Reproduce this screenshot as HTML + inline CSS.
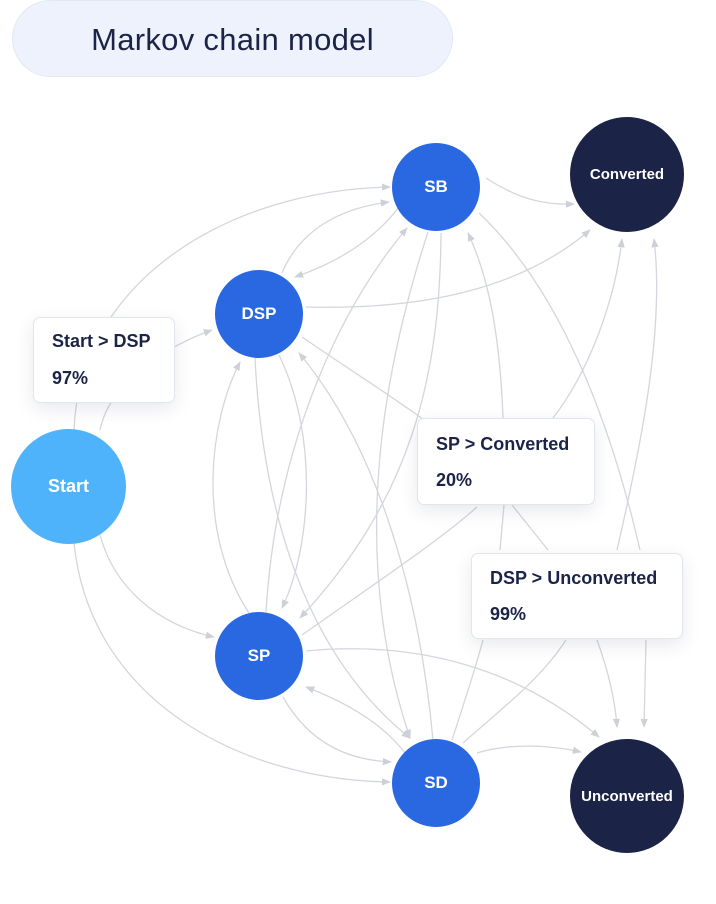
<!DOCTYPE html>
<html><head><meta charset="utf-8"><style>
body{margin:0;width:716px;height:904px;background:#fff;overflow:hidden;position:relative;font-family:"Liberation Sans",sans-serif}
.pill{position:absolute;left:12px;top:0;width:441px;height:77px;border-radius:39px;background:#edf2fc;border:1px solid #e2e8f3;box-sizing:border-box;text-align:center;line-height:78px;font-size:31px;color:#1b2447;letter-spacing:0.3px}
.lbl{position:absolute;background:#fff;border:1.5px solid #e0e5ee;border-radius:7px;box-sizing:border-box;box-shadow:0 6px 18px rgba(30,40,80,0.10);color:#1b2447;font-weight:bold;font-size:18px;padding-left:18px}
.lbl div{position:absolute;left:18px;white-space:nowrap}
.n{position:absolute;border-radius:50%;color:#fff;font-weight:bold;display:flex;align-items:center;justify-content:center}
</style></head><body>
<div class="pill">Markov chain model</div>
<svg width="716" height="904" style="position:absolute;left:0;top:0">
<defs><marker id="a" viewBox="0 0 10 10" refX="9" refY="5" markerWidth="7" markerHeight="7" orient="auto-start-reverse"><path d="M0,1 L10,5 L0,9 z" fill="#cdd0d7"/></marker></defs>
<g fill="none" stroke="#d3d6dc" stroke-width="1.3">
<path d="M74,430 C80,280 230,190 390,187" marker-end="url(#a)"/>
<path d="M100,430 C110,380 170,345 212,330" marker-end="url(#a)"/>
<path d="M100,535 C115,590 160,625 214,637" marker-end="url(#a)"/>
<path d="M74,543 C90,700 240,780 390,782" marker-end="url(#a)"/>
<path d="M282,273 C300,230 340,208 389,202" marker-end="url(#a)"/>
<path d="M399,207 C370,245 330,265 295,277" marker-end="url(#a)"/>
<path d="M266,612 C275,460 330,320 407,228" marker-end="url(#a)"/>
<path d="M428,232 C380,380 350,560 410,738" marker-end="url(#a)"/>
<path d="M441,233 C440,380 410,500 300,618" marker-end="url(#a)"/>
<path d="M503,418 C500,340 490,280 468,233" marker-end="url(#a)"/>
<path d="M479,213 C560,290 610,420 640,550"/>
<path d="M486,178 C520,200 545,205 574,204" marker-end="url(#a)"/>
<path d="M306,307 C420,310 520,290 590,230" marker-end="url(#a)"/>
<path d="M553,418 C590,370 615,300 622,239" marker-end="url(#a)"/>
<path d="M617,550 C640,450 665,330 654,239" marker-end="url(#a)"/>
<path d="M249,613 C195,530 210,420 240,362" marker-end="url(#a)"/>
<path d="M255,358 C262,500 300,650 410,738" marker-end="url(#a)"/>
<path d="M279,355 C320,440 310,550 282,608" marker-end="url(#a)"/>
<path d="M433,740 C420,600 380,450 299,353" marker-end="url(#a)"/>
<path d="M302,337 C350,370 390,395 424,420"/>
<path d="M302,635 C380,580 440,540 477,507"/>
<path d="M306,651 C420,640 520,670 599,737" marker-end="url(#a)"/>
<path d="M405,753 C380,720 340,700 306,687" marker-end="url(#a)"/>
<path d="M283,697 C310,745 350,760 391,762" marker-end="url(#a)"/>
<path d="M477,753 C510,743 550,745 581,752" marker-end="url(#a)"/>
<path d="M452,740 C465,700 475,670 483,640"/>
<path d="M463,743 C500,710 540,680 566,640"/>
<path d="M504,505 L500,550"/>
<path d="M512,505 L548,550"/>
<path d="M597,640 C608,670 615,700 617,727" marker-end="url(#a)"/>
<path d="M646,640 L644,727" marker-end="url(#a)"/>
</g></svg>
<div class="lbl" style="left:33px;top:317px;width:142px;height:86px"><div style="top:13px">Start &gt; DSP</div><div style="top:50px">97%</div></div>
<div class="lbl" style="left:417px;top:418px;width:178px;height:87px"><div style="top:15px">SP &gt; Converted</div><div style="top:51px">20%</div></div>
<div class="lbl" style="left:471px;top:553px;width:212px;height:86px"><div style="top:14px">DSP &gt; Unconverted</div><div style="top:50px">99%</div></div>
<div class="n" style="left:392px;top:143px;width:88px;height:88px;background:#2968e0;font-size:17px">SB</div>
<div class="n" style="left:570px;top:117px;width:114px;height:115px;background:#1b2447;font-size:15px">Converted</div>
<div class="n" style="left:215px;top:270px;width:88px;height:88px;background:#2968e0;font-size:17px">DSP</div>
<div class="n" style="left:11px;top:429px;width:115px;height:115px;background:#4fb3fb;font-size:18px">Start</div>
<div class="n" style="left:215px;top:612px;width:88px;height:88px;background:#2968e0;font-size:17px">SP</div>
<div class="n" style="left:392px;top:739px;width:88px;height:88px;background:#2968e0;font-size:17px">SD</div>
<div class="n" style="left:570px;top:739px;width:114px;height:114px;background:#1b2447;font-size:15px">Unconverted</div>
</body></html>
